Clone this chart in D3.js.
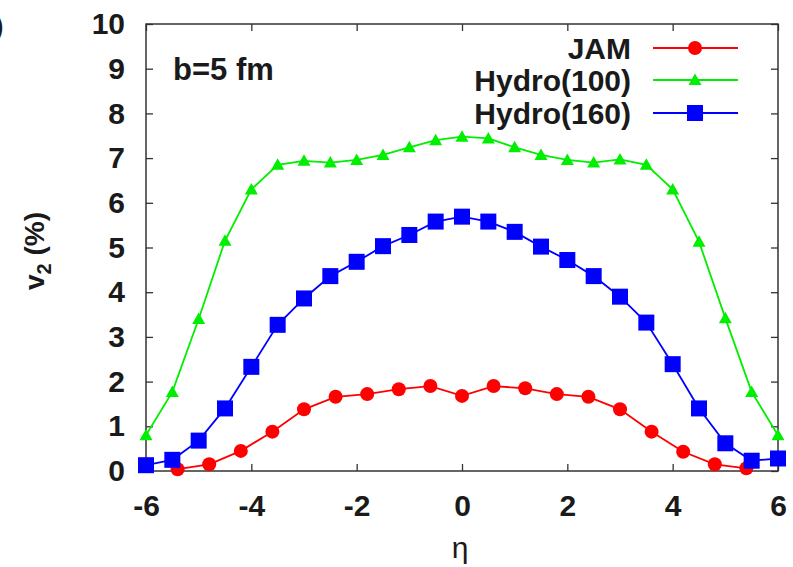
<!DOCTYPE html>
<html>
<head>
<meta charset="utf-8">
<script src="https://cdn.jsdelivr.net/npm/d3@7"></script>
<style>
  body { margin: 0; background: #fff; }
  text { font-family: "Liberation Sans", Arial, sans-serif; fill: #1a1a1a; }
</style>
</head>
<body>
<div id="chart"></div>
<script>
// data
var eta_hydro = [-6, -5.5, -5, -4.5, -4, -3.5, -3, -2.5, -2, -1.5, -1, -0.5, 0,
  0.5, 1, 1.5, 2, 2.5, 3, 3.5, 4, 4.5, 5, 5.5, 6];
var v2_hydro100 = [0.8, 1.77, 3.4, 5.15, 6.3, 6.85, 6.94, 6.9, 6.96, 7.07, 7.24, 7.4, 7.48,
  7.44, 7.24, 7.07, 6.96, 6.9, 6.97, 6.85, 6.3, 5.13, 3.42, 1.77, 0.8];
var v2_hydro160 = [0.13, 0.25, 0.68, 1.4, 2.33, 3.27, 3.86, 4.36, 4.68, 5.03, 5.28, 5.58, 5.69,
  5.58, 5.35, 5.02, 4.72, 4.36, 3.9, 3.32, 2.39, 1.4, 0.62, 0.23, 0.28];
var eta_jam = [-5.4, -4.8, -4.2, -3.6, -3.0, -2.4, -1.8, -1.2, -0.6, 0,
  0.6, 1.2, 1.8, 2.4, 3.0, 3.6, 4.2, 4.8, 5.4];
var v2_jam = [0.04, 0.15, 0.45, 0.88, 1.38, 1.66, 1.72, 1.83, 1.9, 1.68,
  1.9, 1.85, 1.72, 1.66, 1.38, 0.88, 0.43, 0.15, 0.06];
var x_ticks = [-6, -4, -2, 0, 2, 4, 6];
var y_ticks = [0, 1, 2, 3, 4, 5, 6, 7, 8, 9, 10];

var chart_width = 793;
var chart_height = 567;
var plot_left = 146, plot_right = 778, plot_top = 24, plot_bottom = 471;

var svg = d3.select('#chart')
  .append('svg')
  .attr('width', chart_width)
  .attr('height', chart_height);

var x_scale = d3.scaleLinear().domain([-6, 6]).range([plot_left, plot_right]);
var y_scale = d3.scaleLinear().domain([0, 10]).range([plot_bottom, plot_top]);

// axes: ticks point inward, mirrored on top/right
var tick_len = 7;
var fmt = function(d) { return String(d); }; // plain hyphen minus like gnuplot
svg.append('g')
  .attr('transform', 'translate(0,' + plot_bottom + ')')
  .call(d3.axisBottom(x_scale).tickValues(x_ticks).tickSize(-tick_len).tickPadding(24)
    .tickFormat(fmt));
svg.append('g')
  .attr('transform', 'translate(0,' + plot_top + ')')
  .call(d3.axisTop(x_scale).tickValues(x_ticks).tickSize(-tick_len).tickFormat(''));
svg.append('g')
  .attr('transform', 'translate(' + plot_left + ',0)')
  .call(d3.axisLeft(y_scale).tickValues(y_ticks).tickSize(-tick_len).tickPadding(21)
    .tickFormat(fmt));
svg.append('g')
  .attr('transform', 'translate(' + plot_right + ',0)')
  .call(d3.axisRight(y_scale).tickValues(y_ticks).tickSize(-tick_len).tickFormat(''));

svg.selectAll('.domain').remove();
svg.selectAll('.tick line').attr('stroke', '#333').attr('stroke-width', 1.3);
svg.selectAll('.tick text')
  .style('font-size', '30px')
  .style('font-weight', 'bold')
  .attr('fill', '#1a1a1a');

// frame
svg.append('rect')
  .attr('x', plot_left).attr('y', plot_top)
  .attr('width', plot_right - plot_left).attr('height', plot_bottom - plot_top)
  .attr('fill', 'none').attr('stroke', '#333').attr('stroke-width', 1.5);

var line = d3.line()
  .x(function(d) { return x_scale(d[0]); })
  .y(function(d) { return y_scale(d[1]); });

var series = [
  { name: 'JAM', xs: eta_jam, ys: v2_jam, color: '#ff0000', shape: 'circle' },
  { name: 'Hydro(100)', xs: eta_hydro, ys: v2_hydro100, color: '#00ee00', shape: 'triangle' },
  { name: 'Hydro(160)', xs: eta_hydro, ys: v2_hydro160, color: '#0000ff', shape: 'square' }
];

function marker(g, shape, color) {
  if (shape === 'circle') {
    g.append('circle').attr('r', 7).attr('fill', color);
  } else if (shape === 'square') {
    g.append('rect').attr('x', -8).attr('y', -8).attr('width', 16).attr('height', 16).attr('fill', color);
  } else {
    g.append('path').attr('d', 'M0,-6.5L6.5,5L-6.5,5Z').attr('fill', color);
  }
}

var plot = svg.append('g');
series.forEach(function(s) {
  var pts = s.xs.map(function(x, i) { return [x, s.ys[i]]; });
  plot.append('path')
    .datum(pts)
    .attr('d', line)
    .attr('fill', 'none')
    .attr('stroke', s.color)
    .attr('stroke-width', 1.8);
  pts.forEach(function(p) {
    var g = plot.append('g')
      .attr('transform', 'translate(' + x_scale(p[0]) + ',' + y_scale(p[1]) + ')');
    marker(g, s.shape, s.color);
  });
});

// legend
var legend_y = [48, 80, 113];
series.forEach(function(s, i) {
  var y = legend_y[i];
  svg.append('text')
    .attr('x', 631).attr('y', y + 11)
    .attr('text-anchor', 'end')
    .style('font-size', '30px')
    .style('font-weight', 'bold')
    .text(s.name);
  svg.append('line')
    .attr('x1', 653).attr('x2', 738)
    .attr('y1', y).attr('y2', y)
    .attr('stroke', s.color).attr('stroke-width', 1.8);
  var g = svg.append('g').attr('transform', 'translate(695,' + y + ')');
  marker(g, s.shape, s.color);
});

// annotation
svg.append('text')
  .attr('x', 173).attr('y', 80)
  .style('font-size', '31px')
  .style('font-weight', 'bold')
  .text('b=5 fm');

// axis titles
svg.append('text')
  .attr('x', 460).attr('y', 558)
  .attr('text-anchor', 'middle')
  .style('font-size', '30px')
  .text('η');

var ylab = svg.append('text')
  .attr('transform', 'translate(44,251) rotate(-90)')
  .attr('text-anchor', 'middle')
  .style('font-size', '28px')
  .style('font-weight', 'bold');
ylab.append('tspan').text('v');
ylab.append('tspan').attr('dy', 7).style('font-size', '20px').text('2');
ylab.append('tspan').attr('dy', -7).text(' (%)');

// cut-off panel label at the left edge
svg.append('text')
  .attr('x', 4).attr('y', 36)
  .attr('text-anchor', 'end')
  .style('font-size', '30px')
  .text('(a)');
</script>
</body>
</html>
